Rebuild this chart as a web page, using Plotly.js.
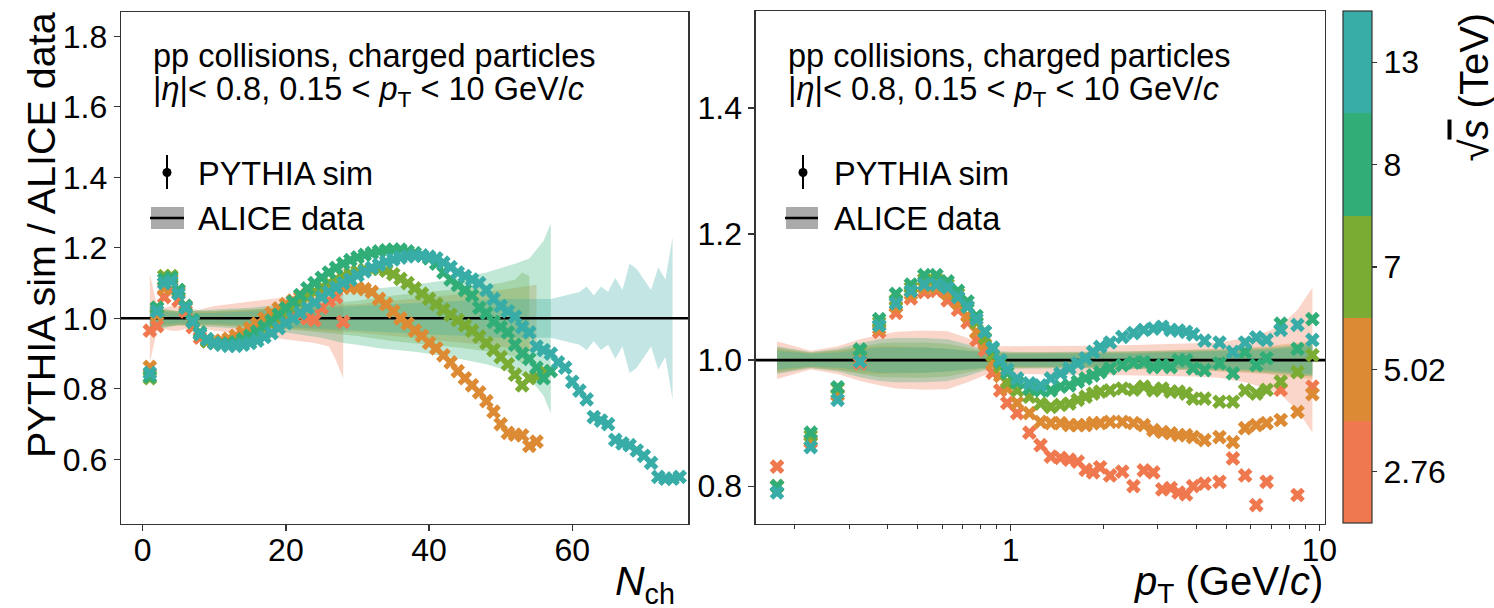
<!DOCTYPE html>
<html><head><meta charset="utf-8">
<script src="https://cdn.plot.ly/plotly-3.0.1.min.js"></script>
<style>html,body{margin:0;padding:0;background:#fff}#chart{width:1494px;height:608px}</style>
</head><body><div id="chart"></div>
<script>
// ---------------- data ----------------
const energies = ['2.76','5.02','7','8','13'];
const colors = ['#F0784F','#DC8A33','#7AAB33','#31AE78','#38ADA7'];

// Left panel: multiplicity Nch
const Nch = [1,2,3,4,5,6,7,8,9,10,11,12,13,14,15,16,17,18,19,20,21,22,23,24,25,26,27,28,29,30,
  31,32,33,34,35,36,37,38,39,40,41,42,43,44,45,46,47,48,49,50,51,52,53,54,55,56,57,58,59,60,
  61,62,63,64,65,66,67,68,69,70,71,72,73,74,75];
const ratioN_276 = [0.965,0.978,1.06,1.08,1.05,1.02,0.975,0.945,0.935,0.93,0.93,0.935,0.94,0.945,0.955,0.965,0.975,0.985,0.995,1.005,1.01,1.01,1.0,0.995,1.03,1.05,1.06,0.99];
const ratioN_502 = [0.862,1.01,1.085,1.11,1.075,1.035,0.99,0.955,0.94,0.935,0.937,0.942,0.95,0.96,0.972,0.985,1.0,1.015,1.028,1.04,
  1.05,1.06,1.068,1.075,1.08,1.083,1.085,1.087,1.087,1.086,1.083,1.075,1.055,1.04,1.02,1.0,0.985,0.965,0.95,0.93,
  0.915,0.895,0.875,0.85,0.83,0.81,0.79,0.765,0.735,0.70,0.675,0.67,0.668,0.638,0.65];
const ratioN_7 = [0.83,1.03,1.12,1.12,1.08,1.03,0.99,0.955,0.935,0.93,0.927,0.927,0.93,0.935,0.945,0.955,0.97,0.985,1.0,1.015,
  1.03,1.045,1.06,1.075,1.088,1.1,1.11,1.12,1.127,1.133,1.138,1.14,1.14,1.135,1.125,1.112,1.1,1.085,1.07,1.055,
  1.04,1.025,1.01,0.995,0.98,0.965,0.948,0.93,0.91,0.89,0.87,0.84,0.81,0.83,0.835,0.85];
const ratioN_8 = [0.835,1.03,1.11,1.115,1.08,1.035,0.995,0.96,0.94,0.93,0.927,0.928,0.932,0.94,0.95,0.962,0.977,0.993,1.01,1.028,
  1.047,1.066,1.085,1.1,1.115,1.13,1.143,1.155,1.165,1.173,1.18,1.185,1.19,1.193,1.195,1.195,1.19,1.185,1.178,1.17,
  1.155,1.13,1.11,1.095,1.08,1.065,1.03,1.015,0.99,0.975,0.96,0.925,0.9,0.885,0.86,0.83,0.85];
const ratioN_13 = [0.845,1.02,1.10,1.105,1.07,1.03,0.99,0.955,0.94,0.93,0.925,0.922,0.922,0.925,0.93,0.937,0.947,0.958,0.972,0.986,
  1.0,1.015,1.03,1.045,1.06,1.075,1.088,1.1,1.11,1.122,1.133,1.143,1.152,1.16,1.167,1.172,1.176,1.178,1.178,1.175,
  1.17,1.158,1.145,1.13,1.12,1.11,1.1,1.08,1.055,1.035,1.02,1.005,0.975,0.96,0.92,0.91,0.9,0.875,0.86,0.82,
  0.795,0.77,0.72,0.71,0.7,0.655,0.645,0.64,0.625,0.61,0.59,0.55,0.545,0.545,0.55];

// ALICE relative uncertainties (left)
const bandN_276 = [1,2,3,4,5,6,7,8,9,10,12,14,16,18,20,22,24,26,27,28];
const errN_276  = [0.125,0.035,0.03,0.035,0.035,0.03,0.025,0.025,0.03,0.035,0.04,0.045,0.05,0.055,0.06,0.065,0.07,0.08,0.12,0.17];
const bandN_502 = [1,2,5,10,15,20,25,30,35,40,45,50,55];
const errN_502  = [0.04,0.025,0.02,0.02,0.025,0.03,0.035,0.04,0.05,0.06,0.07,0.08,0.095];
const bandN_7   = [1,2,5,10,15,20,25,30,35,40,45,50,52,53,54];
const errN_7    = [0.04,0.025,0.02,0.02,0.025,0.03,0.04,0.05,0.065,0.075,0.085,0.1,0.11,0.13,0.12];
const bandN_8   = [1,2,5,10,15,20,25,28,30,33,38,43,48,52,54,56,57];
const errN_8    = [0.04,0.03,0.02,0.025,0.03,0.04,0.055,0.07,0.075,0.085,0.095,0.11,0.13,0.155,0.17,0.22,0.27];
const bandN_13  = [1,2,5,10,15,20,25,30,35,40,45,50,55,57,59,61,62,63,64,65,66,67,68,69,70,71,72,73,74];
const errN_13   = [0.03,0.02,0.015,0.015,0.02,0.025,0.03,0.035,0.04,0.045,0.05,0.055,0.055,0.055,0.065,0.075,0.09,0.065,0.09,0.075,0.115,0.08,0.155,0.14,0.11,0.08,0.145,0.11,0.23];

// Right panel: pT bins (GeV/c)
const pT = [0.175,0.225,0.275,0.325,0.375,0.425,0.475,0.525,0.575,0.625,0.675,0.725,0.775,0.825,0.875,0.925,0.975,
  1.05,1.15,1.25,1.35,1.45,1.55,1.65,1.75,1.85,1.95,2.1,2.3,2.5,2.7,2.9,3.1,3.3,3.5,3.7,3.9,
  4.25,4.75,5.25,5.75,6.25,6.75,7.5,8.5,9.5];
const ratioPt_276 = [0.831,0.87,0.945,0.995,1.045,1.075,1.098,1.108,1.11,1.095,1.08,1.06,1.032,1.016,0.98,0.952,0.932,
  0.916,0.885,0.865,0.847,0.845,0.842,0.839,0.826,0.822,0.83,0.817,0.823,0.80,0.825,0.822,0.795,0.797,0.79,0.787,0.80,
  0.804,0.807,0.844,0.817,0.77,0.807,0.953,0.786,0.958];
const ratioPt_502 = [0.80,0.873,0.945,1.0,1.05,1.085,1.105,1.115,1.115,1.105,1.09,1.07,1.045,1.025,0.995,0.975,0.955,
  0.932,0.916,0.902,0.9,0.9,0.897,0.897,0.897,0.9,0.9,0.902,0.902,0.9,0.897,0.889,0.886,0.884,0.881,0.881,0.878,
  0.873,0.878,0.87,0.892,0.897,0.9,0.905,0.918,0.946];
const ratioPt_7 = [0.80,0.88,0.955,1.015,1.06,1.095,1.115,1.128,1.128,1.12,1.105,1.085,1.06,1.035,1.008,0.99,0.965,
  0.952,0.942,0.931,0.926,0.929,0.931,0.937,0.942,0.947,0.95,0.952,0.955,0.953,0.958,0.952,0.955,0.95,0.95,0.947,0.939,
  0.939,0.934,0.934,0.952,0.947,0.953,0.966,0.981,1.008];
const ratioPt_8 = [0.80,0.885,0.957,1.017,1.065,1.105,1.12,1.135,1.135,1.125,1.11,1.093,1.07,1.045,1.018,0.997,0.98,
  0.965,0.955,0.952,0.952,0.958,0.96,0.966,0.971,0.976,0.981,0.987,0.992,0.996,0.997,0.989,0.992,0.989,1.0,1.0,0.987,
  0.984,0.995,0.979,1.013,0.992,1.003,1.058,1.018,1.065];
const ratioPt_13 = [0.79,0.862,0.937,0.998,1.055,1.09,1.11,1.12,1.12,1.115,1.1,1.085,1.065,1.045,1.02,1.0,0.985,
  0.971,0.963,0.96,0.971,0.979,0.987,0.995,1.003,1.013,1.021,1.028,1.037,1.043,1.048,1.05,1.053,1.048,1.047,1.045,1.041,
  1.031,1.028,1.013,1.028,1.036,1.032,1.048,1.056,1.032];

// ALICE relative uncertainties (right)
const bandPt = [0.175,0.225,0.275,0.325,0.375,0.425,0.525,0.625,0.725,0.825,0.925,1.05,1.25,1.55,1.95,2.5,3.1,3.9,4.75,5.75,6.75,7.5,8.5,9.5];
const errPt_276 = [0.03,0.015,0.022,0.033,0.04,0.045,0.047,0.046,0.035,0.024,0.022,0.022,0.022,0.023,0.023,0.024,0.025,0.026,0.028,0.035,0.045,0.055,0.08,0.115];
const errPt_502 = [0.02,0.012,0.016,0.02,0.022,0.022,0.02,0.018,0.015,0.013,0.012,0.012,0.012,0.012,0.013,0.014,0.015,0.016,0.018,0.02,0.022,0.025,0.028,0.03];
const errPt_7   = [0.018,0.011,0.015,0.022,0.027,0.028,0.028,0.026,0.02,0.014,0.012,0.011,0.011,0.011,0.011,0.012,0.013,0.014,0.015,0.016,0.018,0.02,0.022,0.024];
const errPt_8   = [0.022,0.013,0.018,0.027,0.033,0.035,0.035,0.033,0.025,0.016,0.014,0.013,0.013,0.013,0.013,0.014,0.015,0.016,0.017,0.018,0.02,0.022,0.024,0.026];
const errPt_13  = [0.015,0.01,0.012,0.016,0.02,0.02,0.02,0.018,0.015,0.012,0.01,0.01,0.01,0.01,0.01,0.011,0.012,0.013,0.014,0.015,0.016,0.018,0.02,0.022];

// axis ranges / ticks
const xRangeL = [-3.03, 76.2];
const yRangeL = [0.4165, 1.869];
const xRangeR = [Math.pow(10,-0.826), Math.pow(10,1.0185)];
const yRangeR = [0.740, 1.554];
const xTicksL = [0,20,40,60];
const yTicksL = [0.6,0.8,1.0,1.2,1.4,1.6,1.8];
const xTicksR = [1,10];
const xMinorR = [0.2,0.3,0.4,0.5,0.6,0.7,0.8,0.9,2,3,4,5,6,7,8,9];
const yTicksR = [0.8,1.0,1.2,1.4];

// ---------------- build ----------------
const W=1494,H=608;
const X=p=>p/W, Y=p=>1-p/H;
function rgba(hex,a){const n=parseInt(hex.slice(1),16);return `rgba(${n>>16},${(n>>8)&255},${n&255},${a})`;}
function band(xs, errs, color, xa, ya){
  const up = errs.map(e=>1+e), lo = errs.map(e=>1-e);
  return {type:'scatter', mode:'lines', x: xs.concat(xs.slice().reverse()), y: up.concat(lo.slice().reverse()),
    fill:'toself', fillcolor: rgba(color,0.3), line:{width:0}, hoverinfo:'skip', xaxis:xa, yaxis:ya, showlegend:false};
}
function pts(xs, ys, color, xa, ya){
  return {type:'scatter', mode:'markers', x: xs.slice(0, ys.length), y: ys, xaxis:xa, yaxis:ya, showlegend:false,
    marker:{symbol:'x', size:13, color: color, line:{width:0}}};
}
const traces = [];
const bandsL = [[bandN_276,errN_276],[bandN_502,errN_502],[bandN_7,errN_7],[bandN_8,errN_8],[bandN_13,errN_13]];
bandsL.forEach((b,i)=>traces.push(band(b[0],b[1],colors[i],'x','y')));
const bandsR = [errPt_276,errPt_502,errPt_7,errPt_8,errPt_13];
bandsR.forEach((e,i)=>traces.push(band(bandPt,e,colors[i],'x2','y2')));
traces.push({type:'scatter',mode:'lines',x:xRangeL,y:[1,1],line:{color:'#000',width:2.6},xaxis:'x',yaxis:'y',hoverinfo:'skip',showlegend:false});
traces.push({type:'scatter',mode:'lines',x:xRangeR,y:[1,1],line:{color:'#000',width:2.6},xaxis:'x2',yaxis:'y2',hoverinfo:'skip',showlegend:false});
[ratioN_276,ratioN_502,ratioN_7,ratioN_8,ratioN_13].forEach((v,i)=>traces.push(pts(Nch,v,colors[i],'x','y')));
[ratioPt_276,ratioPt_502,ratioPt_7,ratioPt_8,ratioPt_13].forEach((v,i)=>traces.push(pts(pT,v,colors[i],'x2','y2')));

// discrete colour bar
const cs = [];
colors.forEach((c,i)=>{cs.push([i/5,c]);cs.push([(i+1)/5,c]);});
traces.push({type:'scatter',mode:'markers',x:[null],y:[null],xaxis:'x2',yaxis:'y2',showlegend:false,hoverinfo:'skip',
  marker:{color:[0],cmin:0,cmax:5,colorscale:cs,showscale:true,
    colorbar:{x:X(1343),xanchor:'left',y:Y(11),yanchor:'top',len:(523-11)/H,lenmode:'fraction',
      thickness:29,thicknessmode:'pixels',xpad:0,ypad:0,outlinewidth:1.2,outlinecolor:'#333',borderwidth:0,
      tickmode:'array',tickvals:[0.5,1.5,2.5,3.5,4.5],ticktext:energies,ticks:'outside',ticklen:5,tickwidth:1.3,tickcolor:'#333',
      tickfont:{size:32,color:'#000'}}}});

const axBase = {showline:true,linecolor:'#333',linewidth:1.3,mirror:true,ticks:'outside',ticklen:6,tickwidth:1.3,tickcolor:'#333',
  showgrid:false,zeroline:false,tickfont:{size:32,color:'#000'},fixedrange:true};
const layout = {
  width:W,height:H,margin:{l:0,r:0,t:0,b:0},paper_bgcolor:'#fff',plot_bgcolor:'#fff',showlegend:false,
  font:{family:'Liberation Sans, Arial, sans-serif',color:'#000'},
  xaxis:Object.assign({},axBase,{domain:[X(121),X(688.3)],range:xRangeL,tickmode:'array',tickvals:xTicksL,anchor:'y',ticklabelstandoff:-9}),
  yaxis:Object.assign({},axBase,{domain:[Y(524),Y(12)],range:yRangeL,tickmode:'array',tickvals:yTicksL,tickformat:'.1f',anchor:'x'}),
  xaxis2:Object.assign({},axBase,{type:'log',domain:[X(755.7),X(1325)],range:[-0.826,1.0185],tickmode:'array',tickvals:xTicksR,ticktext:['1','10'],anchor:'y2',ticklabelstandoff:-9,
    minor:{tickmode:'array',tickvals:xMinorR,ticks:'outside',ticklen:3.5,tickwidth:1.1,tickcolor:'#333'}}),
  yaxis2:Object.assign({},axBase,{domain:[Y(524),Y(11)],range:yRangeR,tickmode:'array',tickvals:yTicksR,tickformat:'.1f',anchor:'x2'}),
  shapes:[], annotations:[]
};
function ann(text,x,y,o){return Object.assign({text:text,xref:'paper',yref:'paper',x:X(x),y:Y(y),xanchor:'left',yanchor:'middle',showarrow:false,font:{size:32.5,color:'#000'}},o||{});}
const line1 = 'pp collisions, charged particles';
const line2 = '|<i>η</i>|&lt; 0.8, 0.15 &lt; <i>p</i><sub>T</sub> &lt; 10 GeV/<i>c</i>';
[[151,167,196,151,184],[786,803,832,786,818]].forEach(g=>{
  layout.annotations.push(ann(line1,g[0],56));
  layout.annotations.push(ann(line2,g[0],91));
  layout.annotations.push(ann('PYTHIA sim',g[2],174));
  layout.annotations.push(ann('ALICE data',g[2],219));
  layout.shapes.push({type:'line',xref:'paper',yref:'paper',x0:X(g[1]),x1:X(g[1]),y0:Y(155),y1:Y(189),line:{color:'#000',width:2}});
  layout.shapes.push({type:'circle',xref:'paper',yref:'paper',x0:X(g[1]-4.5),x1:X(g[1]+4.5),y0:Y(168),y1:Y(177),fillcolor:'#000',line:{width:0}});
  layout.shapes.push({type:'rect',xref:'paper',yref:'paper',x0:X(g[3]),x1:X(g[4]),y0:Y(229),y1:Y(207),fillcolor:'#aaaaaa',line:{width:0}});
  layout.shapes.push({type:'line',xref:'paper',yref:'paper',x0:X(g[3]-1),x1:X(g[4]),y0:Y(218),y1:Y(218),line:{color:'#000',width:2.6}});
});
layout.annotations.push(ann('PYTHIA sim / ALICE data',41,10,{xanchor:'center',yanchor:'top',textangle:-90,font:{size:39.5,color:'#000'}}));
layout.annotations.push(ann('<i>N</i><sub>ch</sub>',677,584,{xanchor:'right',font:{size:41,color:'#000'}}));
layout.annotations.push(ann('<i>p</i><sub>T</sub> (GeV/<i>c</i>)',1325,584,{xanchor:'right',font:{size:40,color:'#000'}}));
layout.annotations.push(ann('√<span style="text-decoration:overline"><i>s</i></span> (TeV)',1474,11,{xanchor:'center',yanchor:'top',textangle:-90,font:{size:40,color:'#000'}}));

Plotly.newPlot('chart',traces,layout,{staticPlot:true,displayModeBar:false});
</script></body></html>
